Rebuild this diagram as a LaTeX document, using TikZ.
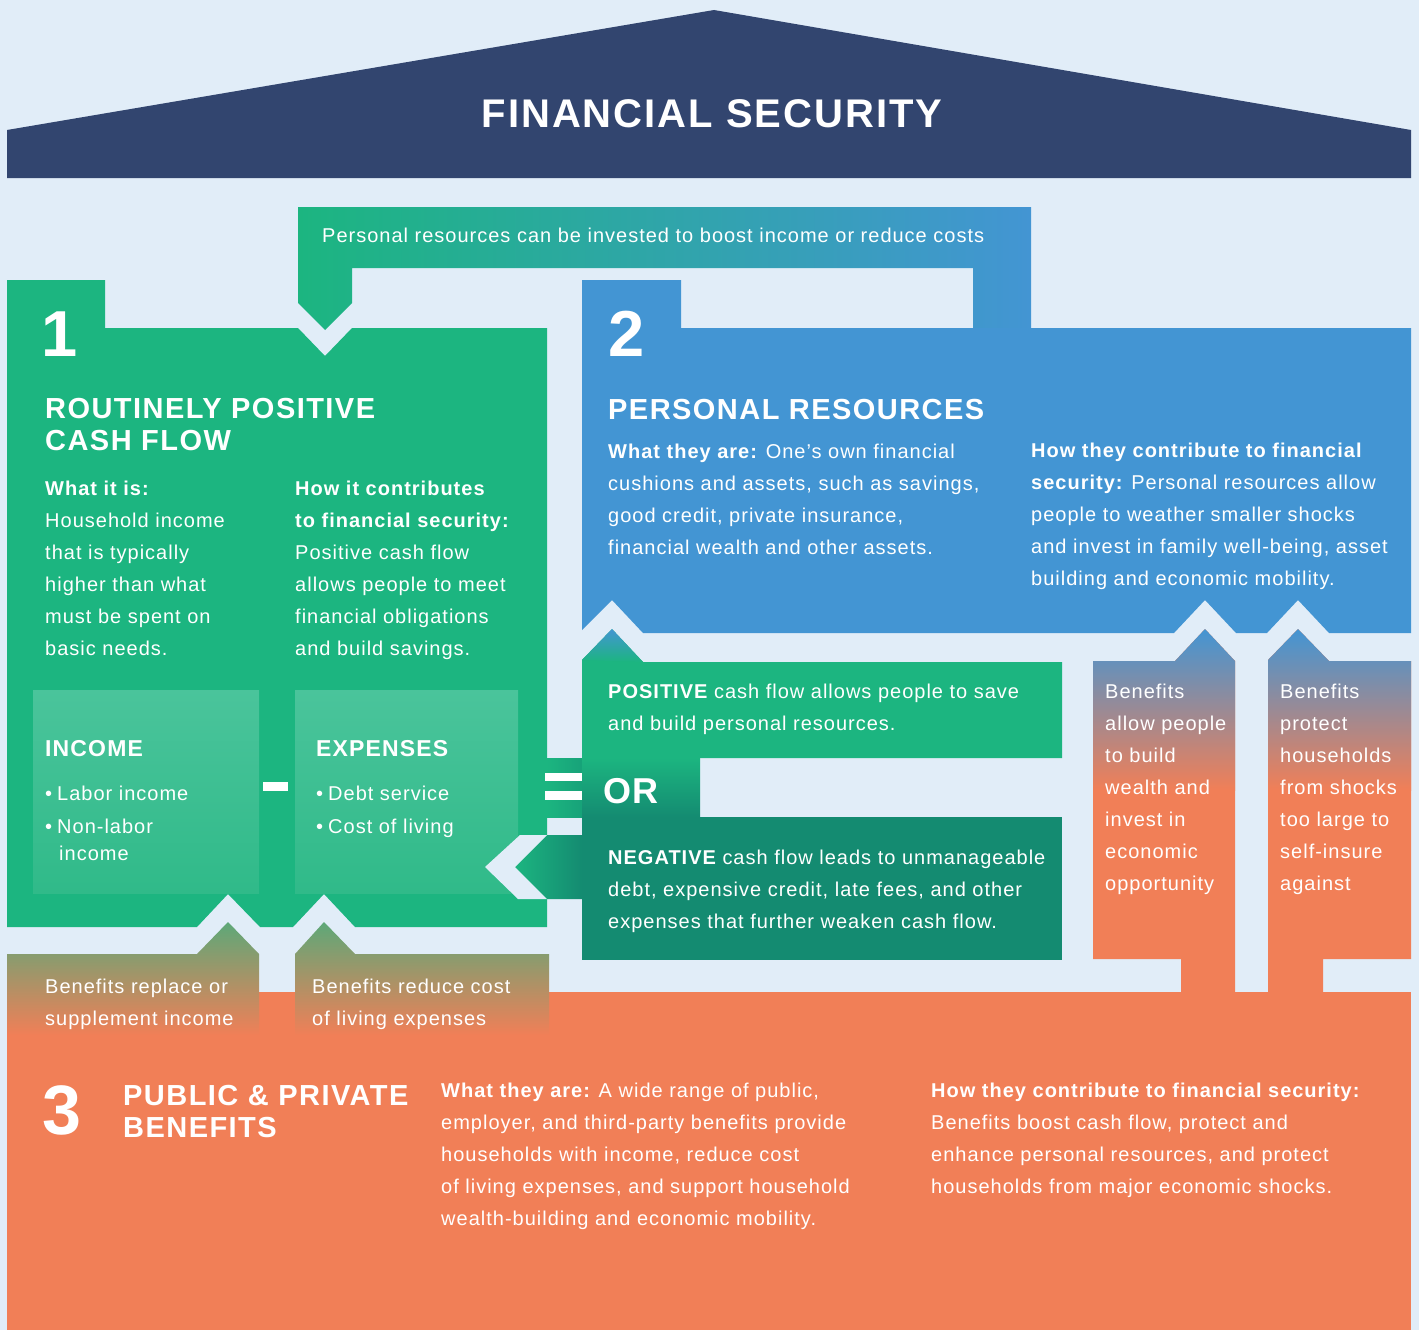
\documentclass[tikz,border=0pt]{standalone}
\usepackage{fontspec}
\setmainfont{Liberation Sans}[LetterSpace=5]
\usepackage{tikz}
\usetikzlibrary{calc}

\definecolor{bg}{HTML}{E1EDF8}
\definecolor{navy}{HTML}{32456F}
\definecolor{grn}{HTML}{1CB580}
\definecolor{grnlight}{HTML}{4AC49B}
\definecolor{grnmid}{HTML}{30BA89}
\definecolor{grndark}{HTML}{17A279}
\definecolor{teal}{HTML}{148B71}
\definecolor{blu}{HTML}{4395D3}
\definecolor{orng}{HTML}{F17F57}
\definecolor{olive}{HTML}{5DA878}

\begin{document}
\begin{tikzpicture}[x=1pt, y=-1pt]

    \tikzstyle{txt}=[anchor=base west, inner sep=0pt, text=white, align=left, font=\fontsize{20}{32}\selectfont];
    \tikzstyle{head}=[txt, font=\fontsize{29}{32}\selectfont\bfseries];
    \tikzstyle{sub}=[txt, font=\fontsize{23}{32}\selectfont\bfseries];
    \tikzstyle{num}=[txt, font=\fontsize{65}{65}\selectfont\bfseries];

    \fill[bg] (0,0) rectangle (1419,1330);
    \useasboundingbox (0,0) rectangle (1419,1330);

    % roof
    \fill[navy] (7,130) -- (714,10) -- (1411,130) -- (1411,178) -- (7,178) -- cycle;
    \node[anchor=base, inner sep=0pt, text=white, font=\fontsize{40}{40}\selectfont\bfseries] (title) at (712,127) {FINANCIAL SECURITY};

    % band from 2 back to 1
    \shade[left color=grn, right color=blu] (298,207) -- (1031,207) -- (1031,328) -- (973,328) -- (973,268) -- (352,268) -- (352,303) -- (325,330) -- (298,303) -- cycle;

    % box 1
    \fill[grn] (7,280) -- (105,280) -- (105,328) -- (298,328) -- (325,356) -- (352,328) -- (547,328) -- (547,927) -- (355,927) -- (324,894) -- (293,927) -- (260,927) -- (228,894) -- (197,927) -- (7,927) -- cycle;
    \shade[top color=grnlight, bottom color=grnmid] (33,690) rectangle (259,893);
    \shade[top color=grnlight, bottom color=grnmid] (295,690) rectangle (518,893);
    \fill[white] (263,782) rectangle (288,791);

    % box 2
    \fill[blu] (582,280) -- (681,280) -- (681,328) -- (1411,328) -- (1411,633) -- (1329,633) -- (1298,600) -- (1267,633) -- (1236,633) -- (1205,600) -- (1174,633) -- (643,633) -- (612,600) -- (582,630) -- cycle;

    % positive / or / negative
    \fill[grn] (582,660) -- (612,629) -- (643,662) -- (1062,662) -- (1062,758) -- (582,758) -- cycle;
    \shade[top color=blu, bottom color=grn] (582,660) -- (612,629) -- (643,662) -- cycle;
    \shade[left color=grn, right color=grndark] (547,758) rectangle (582,817);
    \shade[top color=grn, bottom color=teal] (582,758) rectangle (700,817);
    \fill[white] (545,773) rectangle (582,781);
    \fill[white] (545,791) rectangle (582,800);
    \fill[teal] (582,817) rectangle (1062,960);
    \shade[left color=grn, right color=teal] (582,835) -- (547,835) -- (515,867) -- (547,899) -- (582,899) -- cycle;
    \fill[bg] (520,835) -- (547,835) -- (515,867) -- (547,899) -- (518,899) -- (485,867) -- cycle;

    % box 3
    \fill[orng] (7,992) rectangle (1411,1330);
    \begin{scope}
        \clip (1093,661) -- (1175,661) -- (1205,629) -- (1235,661) -- (1235,995) -- (1181,995) -- (1181,959) -- (1093,959) -- cycle
              (1268,660) -- (1298,629) -- (1329,661) -- (1411,661) -- (1411,959) -- (1323,959) -- (1323,995) -- (1268,995) -- cycle;
        \fill[orng] (1080,620) rectangle (1420,1000);
        \shade[top color=blu, bottom color=orng] (1080,629) rectangle (1420,790);
    \end{scope}
    \shade[top color=olive, bottom color=orng] (7,954) -- (197,954) -- (228,922) -- (259,954) -- (259,1035) -- (7,1035) -- cycle;
    \shade[top color=olive, bottom color=orng] (295,954) -- (324,922) -- (355,954) -- (549,954) -- (549,1035) -- (295,1035) -- cycle;

    % texts (multi-line nodes sit on their last line)
    \node (band) at (322,242) [txt] {Personal resources can be invested to boost income or reduce costs};

    \node (n1) at (41,356) [num] {1};
    \node (h1) at (45,450) [head] {ROUTINELY POSITIVE\\CASH FLOW};
    \node (what1) at (45,655) [txt] {\bfseries What it is:\\\mdseries Household income\\that is typically\\higher than what\\must be spent on\\basic needs.};
    \node (how1) at (295,655) [txt] {\bfseries How it contributes\\\bfseries to financial security:\\\mdseries Positive cash flow\\allows people to meet\\financial obligations\\and build savings.};
    \node (income) at (45,756) [sub] {INCOME};
    \node (inc1) at (45,800) [txt] {•\hspace{5pt}Labor income};
    \node (inc2) at (45,833) [txt] {•\hspace{5pt}Non-labor};
    \node (inc3) at (59,860) [txt] {income};
    \node (expenses) at (316,756) [sub] {EXPENSES};
    \node (exp1) at (316,800) [txt] {•\hspace{5pt}Debt service};
    \node (exp2) at (316,833) [txt] {•\hspace{5pt}Cost of living};

    \node (n2) at (608,356) [num] {2};
    \node (h2) at (608,419) [head] {PERSONAL RESOURCES};
    \node (what2) at (608,554) [txt] {{\bfseries What they are:} One’s own financial\\cushions and assets, such as savings,\\good credit, private insurance,\\financial wealth and other assets.};
    \node (how2) at (1031,585) [txt] {\bfseries How they contribute to financial\\{\bfseries security:} Personal resources allow\\people to weather smaller shocks\\and invest in family well-being, asset\\building and economic mobility.};

    \node (pos) at (608,730) [txt] {{\bfseries POSITIVE} cash flow allows people to save\\and build personal resources.};
    \node (or) at (603,803) [txt, font=\fontsize{36}{36}\selectfont\bfseries] {OR};
    \node (neg) at (608,928) [txt] {{\bfseries NEGATIVE} cash flow leads to unmanageable\\debt, expensive credit, late fees, and other\\expenses that further weaken cash flow.};

    \node (bena) at (45,1025) [txt] {Benefits replace or\\supplement income};
    \node (benb) at (312,1025) [txt] {Benefits reduce cost\\of living expenses};
    \node (benc) at (1105,890) [txt] {Benefits\\allow people\\to build\\wealth and\\invest in\\economic\\opportunity};
    \node (bend) at (1280,890) [txt] {Benefits\\protect\\households\\from shocks\\too large to\\self-insure\\against};

    \node (n3) at (42,1134) [num, font=\fontsize{70}{70}\selectfont\bfseries] {3};
    \node (h3) at (123,1137) [head] {PUBLIC \& PRIVATE\\BENEFITS};
    \node (what3) at (441,1225) [txt] {{\bfseries What they are:} A wide range of public,\\employer, and third-party benefits provide\\households with income, reduce cost\\of living expenses, and support household\\wealth-building and economic mobility.};
    \node (how3) at (931,1193) [txt] {\bfseries How they contribute to financial security:\\\mdseries Benefits boost cash flow, protect and\\enhance personal resources, and protect\\households from major economic shocks.};

\end{tikzpicture}
\end{document}
